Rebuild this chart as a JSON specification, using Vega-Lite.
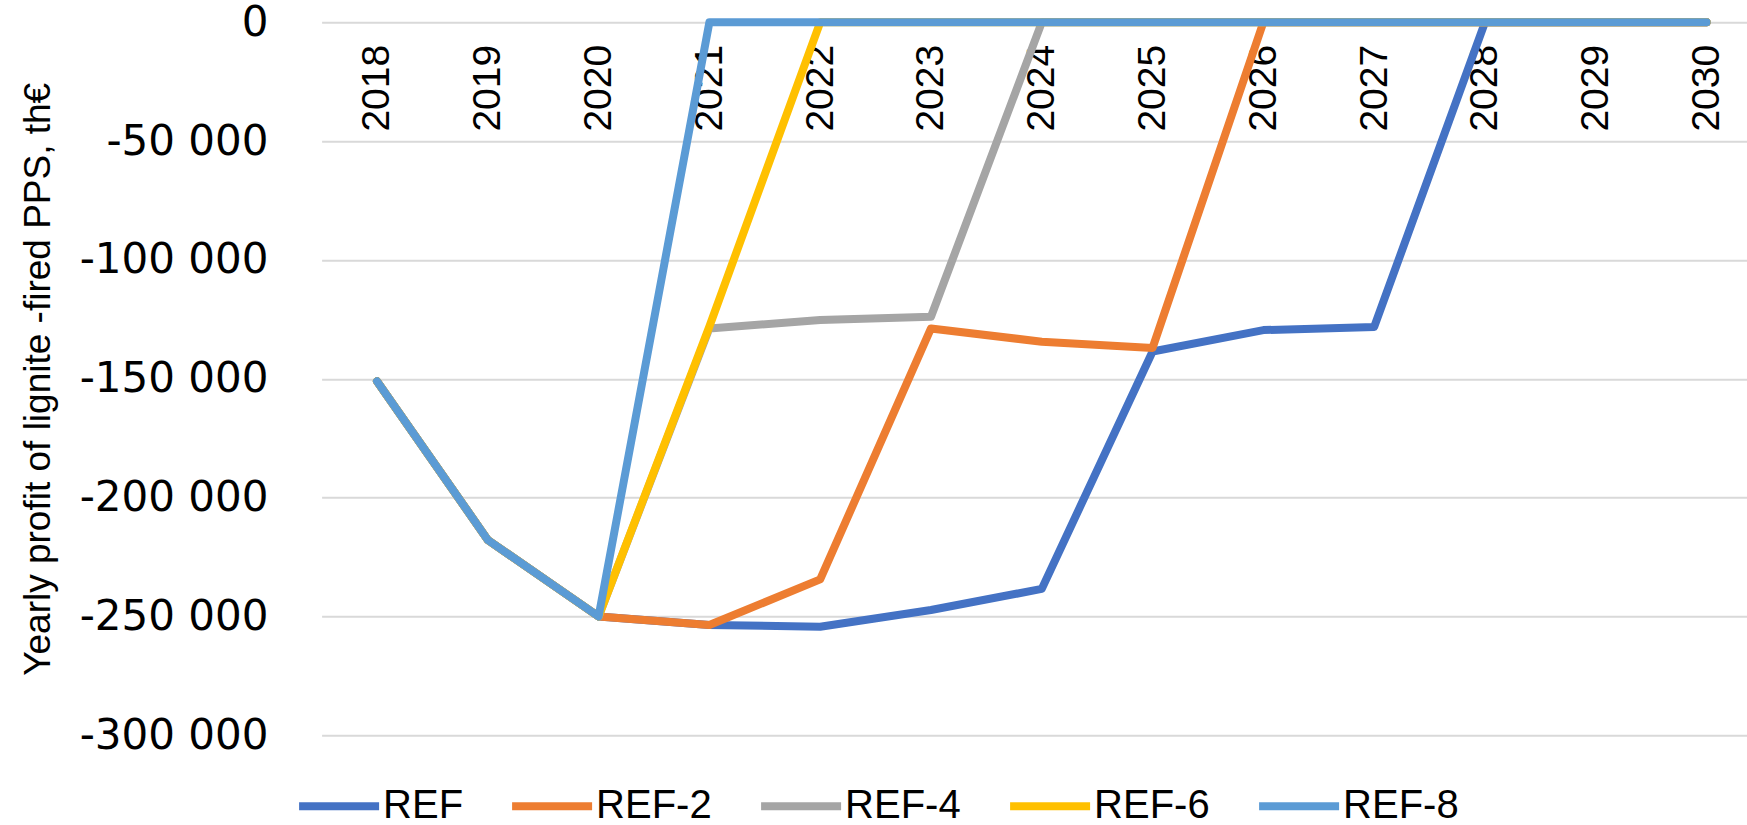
{
  "$schema": "https://vega.github.io/schema/vega-lite/v6.json",
  "width": 1425.4,
  "height": 713,
  "autosize": {"type": "none"},
  "padding": {"left": 321.6, "top": 22.3, "right": 0, "bottom": 89.7},
  "background": "white",
  "config": {
    "view": {"stroke": null}
  },
  "data": {
    "values": [
      {"series": "REF", "year": "2018", "value": -151000},
      {"series": "REF", "year": "2019", "value": -217800},
      {"series": "REF", "year": "2020", "value": -250000},
      {"series": "REF", "year": "2021", "value": -253600},
      {"series": "REF", "year": "2022", "value": -254300},
      {"series": "REF", "year": "2023", "value": -247300},
      {"series": "REF", "year": "2024", "value": -238400},
      {"series": "REF", "year": "2025", "value": -138500},
      {"series": "REF", "year": "2026", "value": -129500},
      {"series": "REF", "year": "2027", "value": -128200},
      {"series": "REF", "year": "2028", "value": 0},
      {"series": "REF", "year": "2029", "value": 0},
      {"series": "REF", "year": "2030", "value": 0},
      {"series": "REF-2", "year": "2018", "value": -151000},
      {"series": "REF-2", "year": "2019", "value": -217800},
      {"series": "REF-2", "year": "2020", "value": -250000},
      {"series": "REF-2", "year": "2021", "value": -253600},
      {"series": "REF-2", "year": "2022", "value": -234400},
      {"series": "REF-2", "year": "2023", "value": -128800},
      {"series": "REF-2", "year": "2024", "value": -134400},
      {"series": "REF-2", "year": "2025", "value": -137000},
      {"series": "REF-2", "year": "2026", "value": 0},
      {"series": "REF-2", "year": "2027", "value": 0},
      {"series": "REF-2", "year": "2028", "value": 0},
      {"series": "REF-2", "year": "2029", "value": 0},
      {"series": "REF-2", "year": "2030", "value": 0},
      {"series": "REF-4", "year": "2018", "value": -151000},
      {"series": "REF-4", "year": "2019", "value": -217800},
      {"series": "REF-4", "year": "2020", "value": -250000},
      {"series": "REF-4", "year": "2021", "value": -128800},
      {"series": "REF-4", "year": "2022", "value": -125300},
      {"series": "REF-4", "year": "2023", "value": -123900},
      {"series": "REF-4", "year": "2024", "value": 0},
      {"series": "REF-4", "year": "2025", "value": 0},
      {"series": "REF-4", "year": "2026", "value": 0},
      {"series": "REF-4", "year": "2027", "value": 0},
      {"series": "REF-4", "year": "2028", "value": 0},
      {"series": "REF-4", "year": "2029", "value": 0},
      {"series": "REF-4", "year": "2030", "value": 0},
      {"series": "REF-6", "year": "2018", "value": -151000},
      {"series": "REF-6", "year": "2019", "value": -217800},
      {"series": "REF-6", "year": "2020", "value": -250000},
      {"series": "REF-6", "year": "2021", "value": -128000},
      {"series": "REF-6", "year": "2022", "value": 0},
      {"series": "REF-6", "year": "2023", "value": 0},
      {"series": "REF-6", "year": "2024", "value": 0},
      {"series": "REF-6", "year": "2025", "value": 0},
      {"series": "REF-6", "year": "2026", "value": 0},
      {"series": "REF-6", "year": "2027", "value": 0},
      {"series": "REF-6", "year": "2028", "value": 0},
      {"series": "REF-6", "year": "2029", "value": 0},
      {"series": "REF-6", "year": "2030", "value": 0},
      {"series": "REF-8", "year": "2018", "value": -151000},
      {"series": "REF-8", "year": "2019", "value": -217800},
      {"series": "REF-8", "year": "2020", "value": -250000},
      {"series": "REF-8", "year": "2021", "value": 0},
      {"series": "REF-8", "year": "2022", "value": 0},
      {"series": "REF-8", "year": "2023", "value": 0},
      {"series": "REF-8", "year": "2024", "value": 0},
      {"series": "REF-8", "year": "2025", "value": 0},
      {"series": "REF-8", "year": "2026", "value": 0},
      {"series": "REF-8", "year": "2027", "value": 0},
      {"series": "REF-8", "year": "2028", "value": 0},
      {"series": "REF-8", "year": "2029", "value": 0},
      {"series": "REF-8", "year": "2030", "value": 0}
    ]
  },
  "mark": {"type": "line", "strokeWidth": 8, "strokeCap": "round", "strokeJoin": "round"},
  "encoding": {
    "x": {
      "field": "year",
      "type": "ordinal",
      "scale": {"type": "point", "padding": 0.4325, "align": 0.578},
      "axis": {
        "orient": "bottom",
        "offset": -713,
        "labelAngle": -90,
        "labelFont": "Liberation Sans",
        "labelFontSize": 39,
        "labelColor": "#000000",
        "labelPadding": 22,
        "ticks": false,
        "domain": false,
        "grid": false,
        "title": null
      }
    },
    "y": {
      "field": "value",
      "type": "quantitative",
      "scale": {"domain": [-300000, 0], "nice": false, "zero": false},
      "axis": {
        "values": [-300000, -250000, -200000, -150000, -100000, -50000, 0],
        "labelExpr": "replace(replace(format(datum.value, ','), ',', ' '), '\u2212', '-')",
        "labelFont": "DejaVu Sans",
        "labelFontSize": 42,
        "labelLimit": 400,
        "labelColor": "#000000",
        "labelPadding": 53.6,
        "ticks": false,
        "domain": false,
        "grid": true,
        "gridColor": "#D9D9D9",
        "gridWidth": 2,
        "title": "Yearly profit of lignite -fired PPS, th€",
        "titleFont": "Liberation Sans",
        "titleFontSize": 37,
        "titleFontWeight": "normal",
        "titleColor": "#000000",
        "titleLimit": 800,
        "titleX": -264,
        "titleY": 356.5
      }
    },
    "color": {
      "field": "series",
      "type": "nominal",
      "scale": {
        "domain": ["REF", "REF-2", "REF-4", "REF-6", "REF-8"],
        "range": ["#4472C4", "#ED7D31", "#A5A5A5", "#FFC000", "#5B9BD5"]
      },
      "legend": {
        "orient": "none",
        "legendX": -26.5,
        "legendY": 740,
        "direction": "horizontal",
        "title": null,
        "symbolType": "stroke",
        "symbolSize": 6400,
        "symbolStrokeWidth": 8,
        "labelFont": "Liberation Sans",
        "labelFontSize": 40,
        "labelColor": "#000000",
        "labelOffset": 0,
        "columnPadding": 33,
        "padding": 0,
        "labelLimit": 400
      }
    }
  }
}
